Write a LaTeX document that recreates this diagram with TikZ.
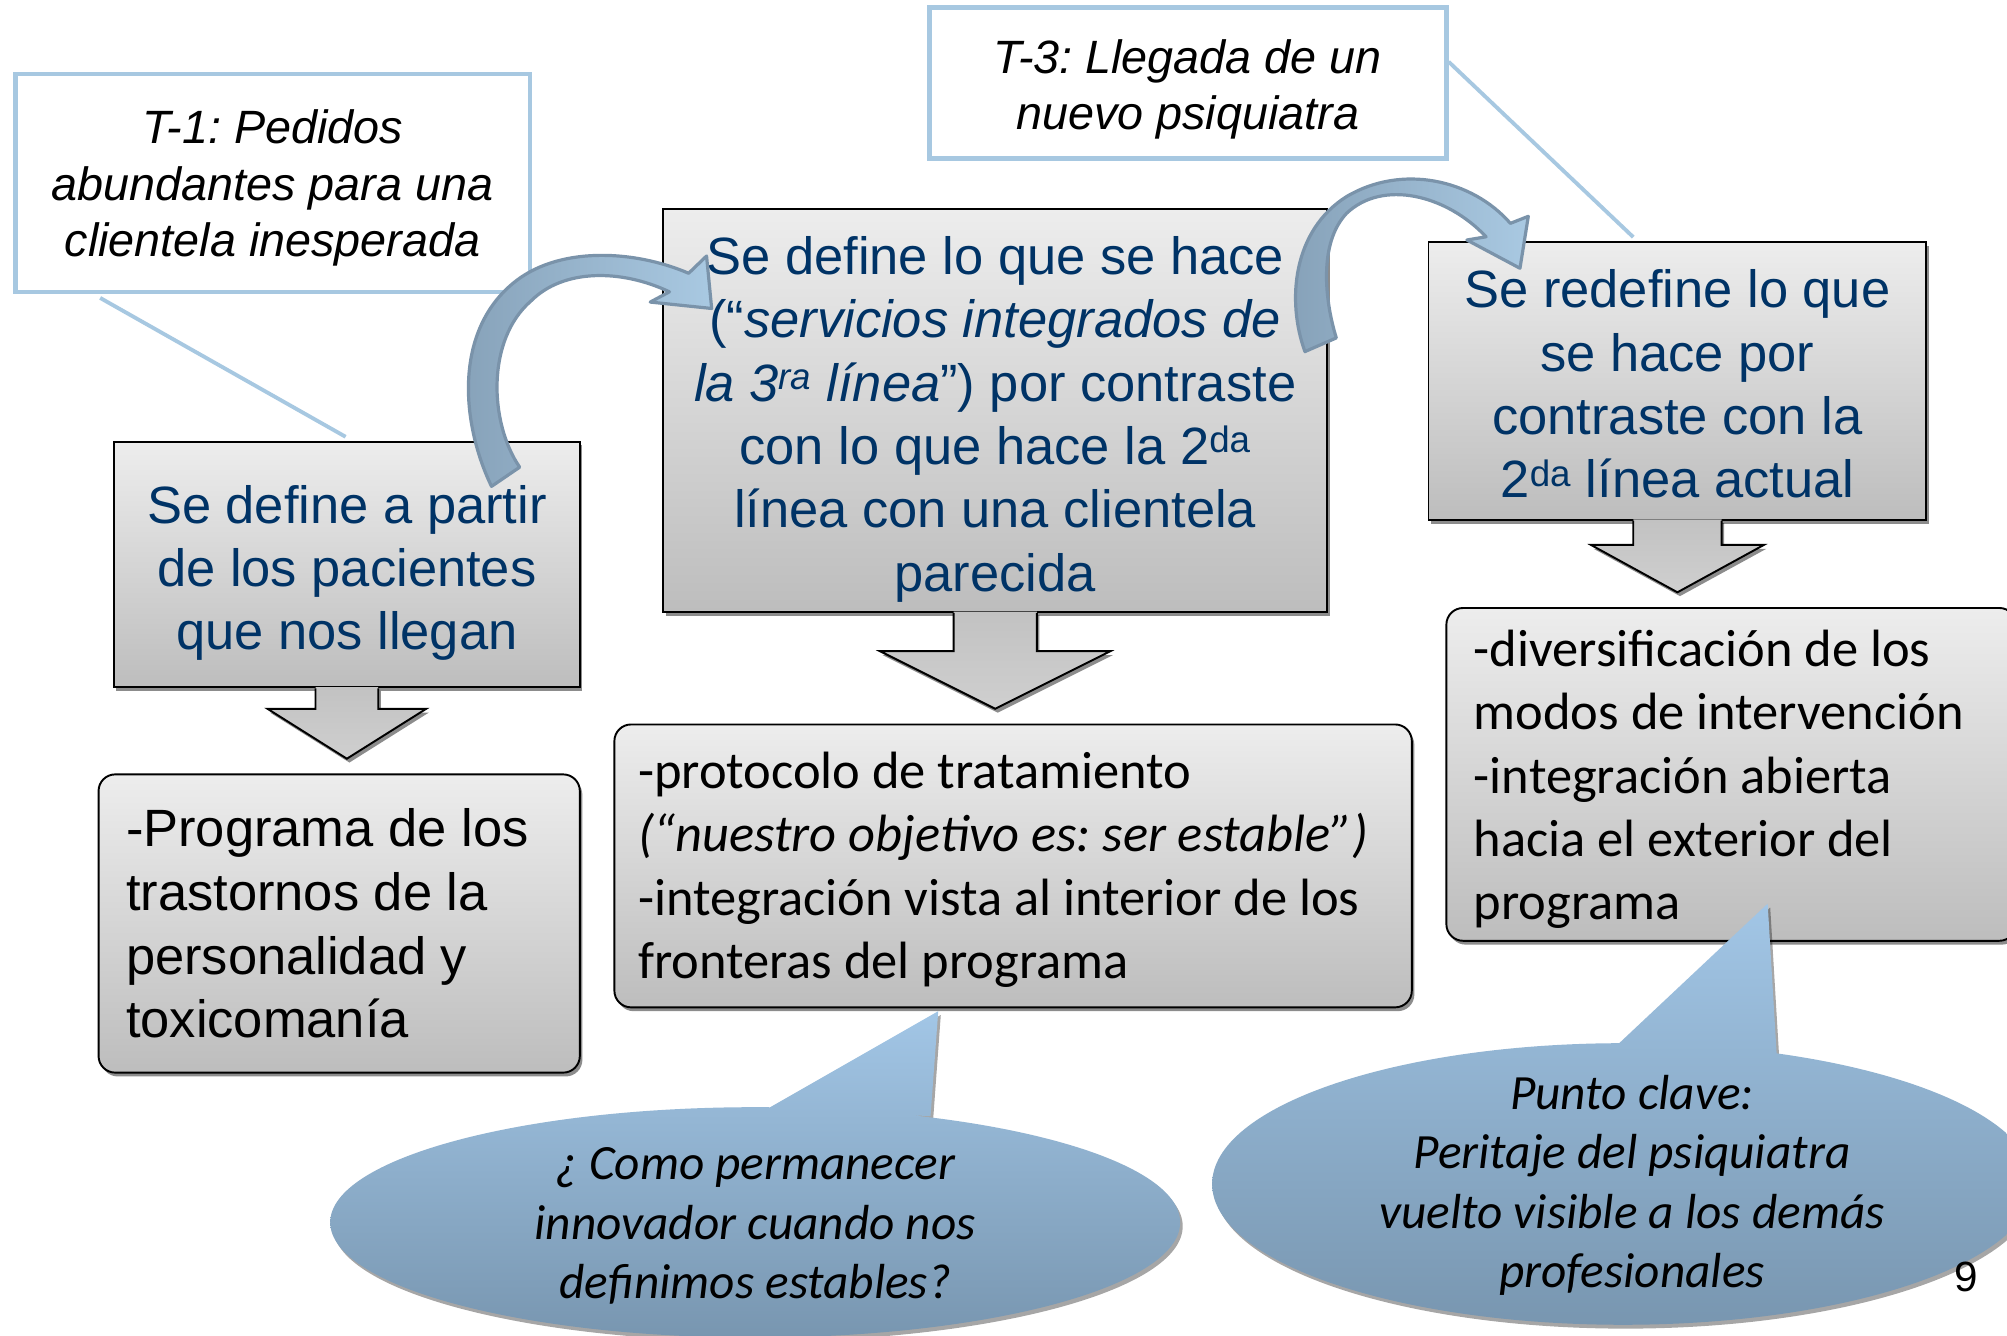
\documentclass[tikz,border=0pt]{standalone}
\usepackage{fontspec}
\usetikzlibrary{calc,shadows,shapes.geometric}
\newfontfamily\arialf{Liberation Sans}
\newfontfamily\calf{Carlito}
\frenchspacing
\definecolor{navy}{HTML}{003366}
\definecolor{tblue}{HTML}{A7C8E1}
\definecolor{gtop}{HTML}{EDEDED}
\definecolor{gbot}{HTML}{BDBDBD}
\definecolor{atop}{HTML}{C2C2C2}
\definecolor{abot}{HTML}{CFCFCF}
\definecolor{ctop}{HTML}{A2C6E6}
\definecolor{cbot}{HTML}{7896B0}
\definecolor{arrL}{HTML}{86A1B8}
\definecolor{arrR}{HTML}{A9C9E2}
\definecolor{arrB}{HTML}{7A93AA}
\tikzset{
  tbox/.style={draw=tblue, line width=3.5pt, fill=white, inner sep=0pt},
  ttext/.style={inner sep=0pt, align=center, text=black,
    font=\arialf\itshape\fontsize{36.5}{44}\selectfont},
  tline/.style={draw=tblue, line width=3pt},
  gshadow/.style={drop shadow={shadow xshift=2pt, shadow yshift=-3pt, fill=black, opacity=.45}},
  gbox/.style={draw=black, line width=1.5pt, top color=gtop, bottom color=gbot, inner sep=0pt, gshadow},
  gtext/.style={inner sep=0pt, align=center, text=navy, font=\arialf\fontsize{41}{49.5}\selectfont},
  rbox/.style={draw=black, line width=1.5pt, top color=gtop, bottom color=gbot, inner sep=0pt,
    rounded corners=13pt, gshadow},
  ptextA/.style={inner sep=0pt, align=left, text=black, font=\arialf\fontsize{41}{49.7}\selectfont},
  ptextC/.style={inner sep=0pt, align=left, text=black, font=\calf\fontsize{41}{49.5}\selectfont},
  dashade/.style={top color=atop, bottom color=abot, gshadow},
  carrow/.style={draw=arrB, line width=2.5pt, line join=round, left color=arrL, right color=arrR},
  callout/.style={top color=ctop, bottom color=cbot,
    drop shadow={shadow xshift=2pt, shadow yshift=-3pt, fill=black, opacity=.35}},
  etext/.style={inner sep=0pt, align=center, text=black, font=\calf\itshape\fontsize{38.5}{46.5}\selectfont},
}
\newcommand\blockdown[5]{%
  \path[dashade] ($(#1.south)+(-#2,-1)$) -- ($(#1.south)+(-#2,#3)$) -- ($(#1.south)+(-#4,#3)$)
    -- ($(#1.south)+(0,#3+#5)$) -- ($(#1.south)+(#4,#3)$) -- ($(#1.south)+(#2,#3)$)
    -- ($(#1.south)+(#2,-1)$) -- cycle;
  \draw[line width=1.5pt, line join=miter] ($(#1.south)+(-#2,0)$) -- ($(#1.south)+(-#2,#3)$)
    -- ($(#1.south)+(-#4,#3)$) -- ($(#1.south)+(0,#3+#5)$) -- ($(#1.south)+(#4,#3)$)
    -- ($(#1.south)+(#2,#3)$) -- ($(#1.south)+(#2,0)$);
}
\begin{document}
\begin{tikzpicture}[x=1pt,y=-1pt]
\useasboundingbox (0,0) rectangle (1568,1043);
\fill[white] (0,0) rectangle (1568,1043);

% title boxes
\node[tbox, minimum width=402pt, minimum height=170pt] (T1) at (213,143) {};
\node[ttext] (T1t) at ($(T1.center)+(0,4)$) {T-1: Pedidos\\abundantes para una\\clientela inesperada};
\node[tbox, minimum width=404pt, minimum height=118pt] (T3) at (928,65) {};
\node[ttext] (T3t) at ($(T3.center)+(0,5)$) {T-3: Llegada de un\\nuevo psiquiatra};

% main boxes
\node[gbox, minimum width=364pt, minimum height=192pt] (A) at (271,441) {};
\node[gtext] (At) at ($(A.center)+(0,6.5)$) {Se define a partir\\de los pacientes\\que nos llegan};
\node[gbox, minimum width=519pt, minimum height=315pt] (B) at (777.5,320.5) {};
\node[gtext] (Bt) at ($(B.center)+(0,7)$)
  {Se define lo que se hace\\(“\textit{servicios integrados de}\\\textit{la 3\textsuperscript{ra} línea}”) por contraste\\con lo que hace la 2\textsuperscript{da}\\línea con una clientela\\parecida};
\node[gbox, minimum width=389pt, minimum height=217pt] (C) at (1310.5,297.5) {};
\node[gtext] (Ct) at ($(C.center)+(0,2.5)$)
  {Se redefine lo que\\se hace por\\contraste con la\\2\textsuperscript{da} línea actual};

% connectors from title boxes
\draw[tline] ($(T1.south west)+(68,3)$) -- ($(A.north)+(-1,-3)$);
\draw[tline] ($(T3.north east)+(0,44)$) -- ($(C.north)+(-34.5,-3)$);

% result boxes
\node[rbox, minimum width=376pt, minimum height=233pt] (P1) at (265,721.5) {};
\node[ptextA, anchor=west] (P1t) at ($(P1.west)+(22,0)$)
  {-Programa de los\\trastornos de la\\personalidad y\\toxicomanía};
\node[rbox, minimum width=623pt, minimum height=221pt] (P2) at (791.5,676.5) {};
\node[ptextC, anchor=west] (P2t) at ($(P2.west)+(19,3)$)
  {-protocolo de tratamiento\\\textit{(“nuestro objetivo es: ser estable”)}\\-integración vista al interior de los\\fronteras del programa};
\node[rbox, minimum width=445pt, minimum height=260pt] (P3) at (1352.5,605) {};
\node[ptextC, anchor=west] (P3t) at ($(P3.west)+(22,4)$)
  {-diversificación de los\\modos de intervención\\-integración abierta\\hacia el exterior del\\programa};

% block arrows down
\blockdown{A}{24.5}{16}{62}{39}
\blockdown{B}{32.5}{30}{90}{45}
\blockdown{C}{34.5}{19}{67.5}{37}

% callouts
\path[callout] (590,955) ellipse [x radius=332, y radius=90]
  (600,866) -- (733,790) -- (727,872) -- cycle;
\node[etext] (E1) at (590,958) {¿ Como permanecer\\innovador cuando nos\\definimos estables?};
\path[callout] (1268,925) ellipse [x radius=321, y radius=110]
  (1265,815) -- (1381,706) -- (1388,823) -- cycle;
\node[etext] (E2) at (1275,926) {Punto clave:\\Peritaje del psiquiatra\\vuelto visible a los demás\\profesionales};

% curved arrows
\path[carrow] (384,380) .. controls (360,330) and (355,260) .. (400,222)
  .. controls (435,192) and (495,195) .. (538,213.5) -- (552,200) -- (556,241) -- (508,236) -- (523,228)
  .. controls (485,210) and (440,210) .. (415,235) .. controls (380,265) and (382,330) .. (406,365) -- cycle;
\path[carrow] (1019.5,274.7) .. controls (1005,235) and (1010,180) .. (1052,153.6)
  .. controls (1095,128) and (1150,140) .. (1180,174.5) -- (1194,169) -- (1187.5,209.6) -- (1146,187.5) -- (1161,185)
  .. controls (1130,152) and (1080,140) .. (1052,166.7) .. controls (1030,190) and (1035,235) .. (1044,264) -- cycle;

\node[font=\arialf\fontsize{33}{33}\selectfont, inner sep=0pt] (pg) at (1536,998) {9};
\end{tikzpicture}
\end{document}
